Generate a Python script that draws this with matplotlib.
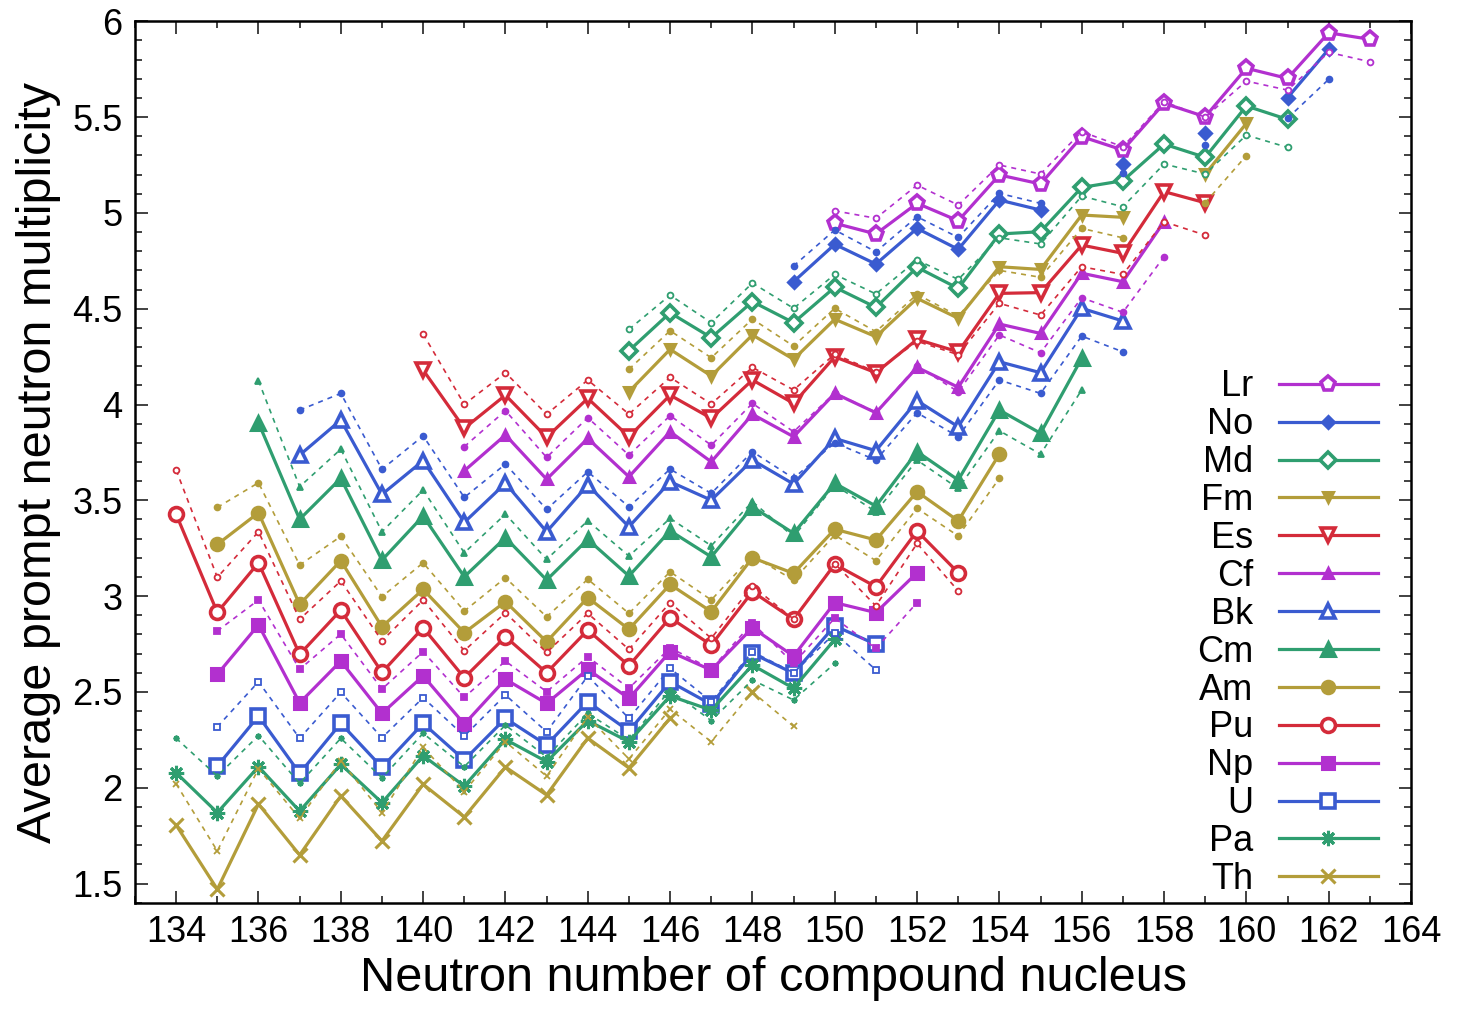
import numpy as np
import matplotlib
matplotlib.use("Agg")
import matplotlib.pyplot as plt
from matplotlib.ticker import MultipleLocator

plt.rcParams['font.family'] = ['Liberation Sans', 'DejaVu Sans']

nan = np.nan

# Neutron numbers of the compound nucleus for each element
th_n = list(range(134, 150))
pa_n = list(range(134, 151))
u_n = list(range(135, 152))
np_n = list(range(135, 153))
pu_n = list(range(134, 154))
am_n = list(range(135, 155))
cm_n = list(range(136, 157))
bk_n = list(range(137, 158))
cf_n = list(range(141, 159))
es_n = list(range(140, 160))
fm_n = list(range(145, 161))
md_n = list(range(145, 162))
no_n = list(range(149, 163))
lr_n = list(range(150, 164))

# Average prompt neutron multiplicity: main calculation (solid) and alternative (dashed)
th_main = [1.805, 1.470, 1.915, 1.649, 1.957, 1.722, 2.018, 1.847, 2.108, 1.962, 2.259, 2.103, 2.364, nan, 2.501, nan]
th_alt = [2.02, 1.67, 2.10, 1.84, 2.14, 1.87, 2.21, 1.98, 2.24, 2.06, 2.37, 2.15, 2.41, 2.24, 2.50, 2.32]

pa_main = [2.078, 1.870, 2.110, 1.878, 2.122, 1.922, 2.167, 2.009, 2.252, 2.136, 2.350, 2.240, 2.479, 2.405, 2.640, 2.519, 2.774]
pa_alt = [2.258, 2.061, 2.272, 2.023, 2.258, 2.052, 2.284, 2.11, 2.327, 2.16, 2.388, 2.25, 2.51, 2.350, 2.562, 2.458, 2.649]

u_main = [2.113, 2.374, 2.075, 2.336, 2.106, 2.336, 2.145, 2.362, 2.223, 2.449, 2.296, 2.553, 2.435, 2.701, 2.597, 2.845, 2.748]
u_alt = [2.318, 2.553, 2.258, 2.498, 2.261, 2.470, 2.270, 2.484, 2.292, 2.583, 2.362, 2.623, 2.45, 2.71, 2.60, 2.806, 2.615]

np_main = [2.592, 2.850, 2.443, 2.661, 2.388, 2.584, 2.332, 2.566, 2.440, 2.618, 2.466, 2.710, 2.614, 2.835, 2.687, 2.966, 2.914, 3.122]
np_alt = [2.818, 2.980, 2.618, 2.802, 2.515, 2.710, 2.472, 2.661, 2.501, 2.684, 2.519, 2.73, 2.62, 2.86, 2.649, 2.885, 2.727, 2.966]

pu_main = [3.427, 2.915, 3.174, 2.696, 2.927, 2.602, 2.835, 2.574, 2.788, 2.600, 2.823, 2.637, 2.887, 2.745, 3.023, 2.879, 3.166, 3.049, 3.340, 3.122]
pu_alt = [3.658, 3.098, 3.336, 2.879, 3.079, 2.767, 2.980, 2.715, 2.913, 2.706, 2.910, 2.722, 2.966, 2.780, 3.053, 2.88, 3.17, 2.949, 3.275, 3.027]

am_main = [3.270, 3.435, 2.957, 3.185, 2.840, 3.035, 2.809, 2.971, 2.762, 2.992, 2.827, 3.061, 2.919, 3.200, 3.119, 3.349, 3.293, 3.545, 3.393, 3.741]
am_alt = [3.463, 3.592, 3.162, 3.312, 2.997, 3.174, 2.922, 3.096, 2.892, 3.088, 2.910, 3.127, 2.980, 3.21, 3.084, 3.319, 3.185, 3.458, 3.314, 3.615]

cm_main = [3.905, 3.401, 3.615, 3.188, 3.418, 3.101, 3.305, 3.084, 3.296, 3.105, 3.341, 3.205, 3.466, 3.328, 3.589, 3.470, 3.754, 3.606, 3.971, 3.850, 4.241]
cm_alt = [4.124, 3.571, 3.767, 3.336, 3.554, 3.226, 3.428, 3.192, 3.393, 3.209, 3.406, 3.263, 3.493, 3.31, 3.58, 3.44, 3.71, 3.562, 3.863, 3.741, 4.076]

bk_main = [3.736, 3.919, 3.531, 3.707, 3.385, 3.589, 3.336, 3.580, 3.362, 3.597, 3.501, 3.710, 3.585, 3.823, 3.759, 4.020, 3.884, 4.223, 4.166, 4.502, 4.436]
bk_alt = [3.971, 4.058, 3.662, 3.836, 3.515, 3.689, 3.453, 3.649, 3.466, 3.663, 3.536, 3.754, 3.615, 3.80, 3.710, 3.957, 3.832, 4.128, 4.058, 4.357, 4.275]

cf_main = [3.654, 3.841, 3.610, 3.823, 3.623, 3.858, 3.701, 3.949, 3.832, 4.058, 3.957, 4.194, 4.090, 4.420, 4.371, 4.685, 4.641, 4.954]
cf_alt = [3.780, 3.968, 3.724, 3.931, 3.736, 3.942, 3.788, 4.006, 3.858, 4.06, 3.96, 4.20, 4.067, 4.363, 4.270, 4.557, 4.481, 4.771]

es_main = [4.180, 3.876, 4.049, 3.829, 4.032, 3.832, 4.049, 3.928, 4.128, 4.006, 4.249, 4.166, 4.340, 4.275, 4.580, 4.584, 4.832, 4.789, 5.111, 5.053]
es_alt = [4.368, 4.001, 4.166, 3.949, 4.128, 3.950, 4.142, 4.003, 4.194, 4.076, 4.263, 4.17, 4.33, 4.26, 4.528, 4.467, 4.719, 4.679, 4.954, 4.884]

fm_main = [4.067, 4.288, 4.149, 4.363, 4.236, 4.445, 4.354, 4.554, 4.450, 4.719, 4.705, 4.989, 4.977, nan, 5.203, 5.467]
fm_alt = [4.184, 4.385, 4.244, 4.446, 4.305, 4.502, 4.380, 4.575, 4.462, 4.70, 4.664, 4.919, 4.870, nan, 5.053, 5.299]

md_main = [4.281, 4.479, 4.349, 4.537, 4.427, 4.612, 4.507, 4.716, 4.606, 4.890, 4.902, 5.133, 5.168, 5.359, 5.290, 5.558, 5.488]
md_alt = [4.392, 4.571, 4.427, 4.634, 4.502, 4.679, 4.577, 4.754, 4.653, 4.87, 4.838, 5.088, 5.032, 5.255, 5.203, 5.406, 5.342]

no_main = [4.641, 4.836, 4.733, 4.919, 4.810, 5.067, 5.015, nan, 5.253, nan, 5.417, nan, 5.601, 5.854]
no_alt = [4.723, 4.911, 4.797, 4.980, 4.872, 5.102, 5.050, nan, 5.210, nan, 5.354, nan, 5.494, 5.697]

lr_main = [4.946, 4.890, 5.050, 4.959, 5.198, 5.151, 5.398, 5.328, 5.572, 5.502, 5.755, 5.702, 5.940, 5.906]
lr_alt = [5.011, 4.972, 5.145, 5.041, 5.250, 5.203, 5.424, 5.345, 5.580, 5.50, 5.688, 5.641, 5.838, 5.789]

x_ticks = list(range(134, 165, 2))
y_ticks = [1.5, 2, 2.5, 3, 3.5, 4, 4.5, 5, 5.5, 6]
y_ticklabels = ["1.5", "2", "2.5", "3", "3.5", "4", "4.5", "5", "5.5", "6"]

PURPLE = '#b230cf'
BLUE = '#3a5bd0'
GREEN = '#2f9e70'
GOLD = '#b39d3a'
RED = '#d42b3a'

ASTERISK = (8, 2, 0)

# label, n, main, alt, colour, marker, size, filled, alt marker, alt filled
series = [
    ("Lr", lr_n, lr_main, lr_alt, PURPLE, 'p', 11, False, 'o', False),
    ("No", no_n, no_main, no_alt, BLUE, 'D', 6, True, 'o', True),
    ("Md", md_n, md_main, md_alt, GREEN, 'D', 8, False, 'o', False),
    ("Fm", fm_n, fm_main, fm_alt, GOLD, 'v', 7, True, 'o', True),
    ("Es", es_n, es_main, es_alt, RED, 'v', 10, False, 'o', False),
    ("Cf", cf_n, cf_main, cf_alt, PURPLE, '^', 7, True, 'o', True),
    ("Bk", bk_n, bk_main, bk_alt, BLUE, '^', 10, False, 'o', True),
    ("Cm", cm_n, cm_main, cm_alt, GREEN, '^', 10, True, '^', True),
    ("Am", am_n, am_main, am_alt, GOLD, 'o', 9, True, 'o', True),
    ("Pu", pu_n, pu_main, pu_alt, RED, 'o', 10, False, 'o', False),
    ("Np", np_n, np_main, np_alt, PURPLE, 's', 9, True, 's', True),
    ("U", u_n, u_main, u_alt, BLUE, 's', 10, False, 's', False),
    ("Pa", pa_n, pa_main, pa_alt, GREEN, ASTERISK, 11, True, ASTERISK, True),
    ("Th", th_n, th_main, th_alt, GOLD, 'x', 10, True, 'x', True),
]

fig = plt.figure(figsize=(14.6, 10.09), dpi=100)
ax = fig.add_axes([135 / 1460, 1 - 902.7 / 1009, (1411 - 135) / 1460, (902.7 - 21.3) / 1009])

handles = []
for label, n, main, alt, col, mk, ms, filled, amk, afilled in series:
    h, = ax.plot(n, main, color=col, lw=2.3, marker=mk, ms=ms,
                 mfc=col if filled else 'white', mec=col,
                 mew=2.2 if filled else 2.6,
                 label=label, zorder=3)
    handles.append(h)

for label, n, main, alt, col, mk, ms, filled, amk, afilled in series:
    ax.plot(n, alt, color=col, lw=1.2, ls=(0, (3, 3)), marker=amk, ms=4.2,
            mfc=col if afilled else 'white', mec=col, mew=1.3, zorder=4)

ax.set_xlim(133, 164)
ax.set_ylim(1.4, 6)
ax.set_xticks(x_ticks)
ax.set_xticklabels([str(v) for v in x_ticks])
ax.xaxis.set_minor_locator(MultipleLocator(1))
ax.set_yticks(y_ticks)
ax.set_yticklabels(y_ticklabels)
ax.yaxis.set_minor_locator(MultipleLocator(0.1))

ax.tick_params(which='both', direction='in', top=True, right=True, width=1.3, color='#333333')
ax.tick_params(which='major', length=9, labelsize=26, pad=9)
ax.tick_params(which='minor', length=5)
for sp in ax.spines.values():
    sp.set_linewidth(1.8)

ax.set_xlabel("Neutron number of compound nucleus", fontsize=35, labelpad=4)
ax.set_ylabel("Average prompt neutron multiplicity", fontsize=35, labelpad=8)

leg = ax.legend(handles=handles, loc='lower right', markerfirst=False,
                bbox_to_anchor=(1378 / 1460, 1 - 897 / 1009),
                bbox_transform=fig.transFigure, frameon=False, fontsize=26,
                handlelength=2.75, handletextpad=0.7, labelspacing=0.08,
                borderpad=0, borderaxespad=0)

fig.savefig("out.png", dpi=100)
